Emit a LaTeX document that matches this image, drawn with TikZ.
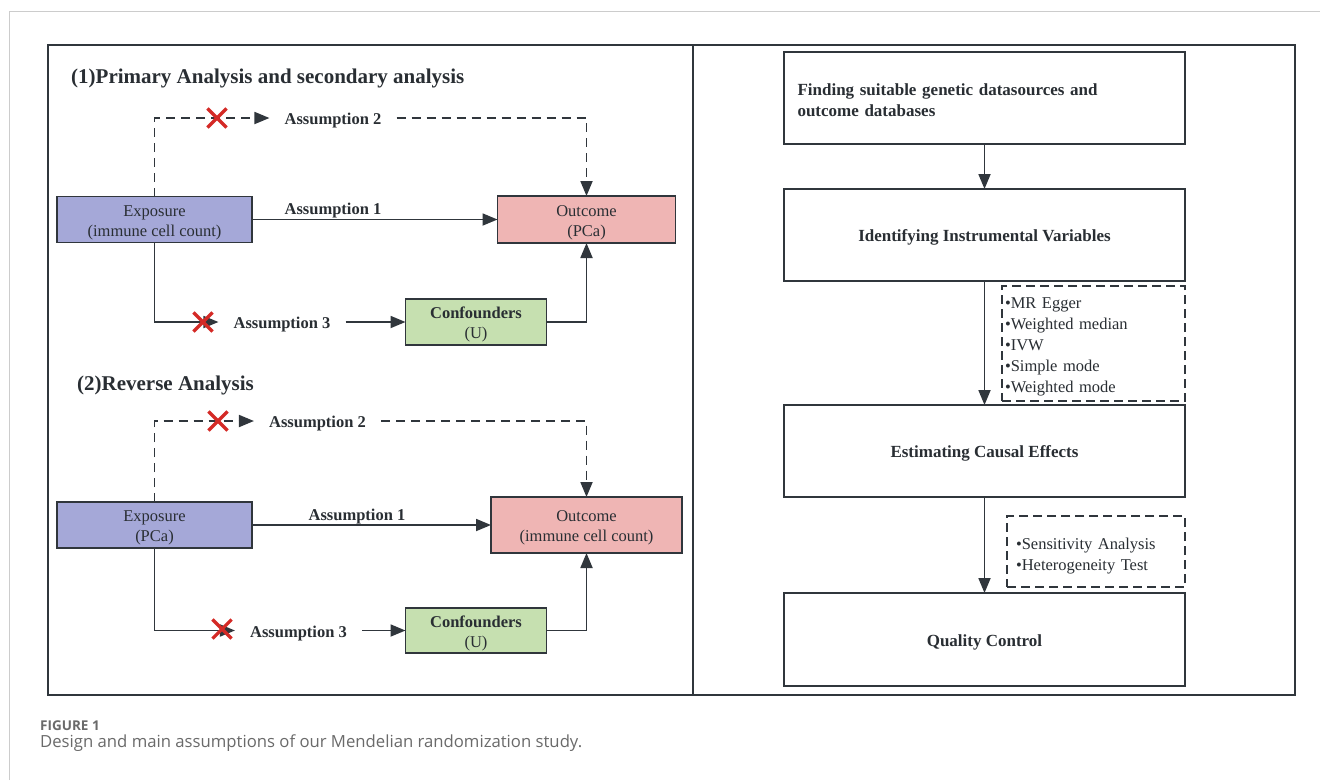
\documentclass[tikz,border=0pt]{standalone}
\usepackage{fontspec}
\setmainfont{Liberation Serif}
\newfontfamily\capfont{Open Sans}
\usepackage{xcolor}
\usepackage{tikz}
\usetikzlibrary{arrows.meta,shapes.misc}
\definecolor{framegray}{HTML}{30363C}
\definecolor{expblue}{HTML}{A5A8D8}
\definecolor{outpink}{HTML}{EFB5B4}
\definecolor{confgreen}{HTML}{C6E0B0}
\definecolor{crossred}{HTML}{D42A26}
\definecolor{pagegray}{HTML}{CCCCCC}
\definecolor{captext}{HTML}{6A6A6A}
\newcommand{\upgap}{\rule{0pt}{17pt}}

\begin{document}
\begin{tikzpicture}[x=1pt,y=-1pt,
  every node/.style={text=framegray!85!black},
  box/.style={draw=framegray, line width=1.7pt, inner sep=0pt, outer sep=0pt, align=center, font=\fontsize{16.5}{20}\selectfont},
  stepbox/.style={box, minimum width=401pt, minimum height=92pt, font=\fontsize{17}{21}\selectfont\bfseries, execute at begin node={\upgap}},
  notebox/.style={draw=framegray, line width=1.6pt, dash pattern=on 9pt off 5pt, inner xsep=3pt, inner ysep=0pt, align=left, font=\fontsize{16.5}{21}\selectfont, execute at begin node={\upgap}},
  lbl/.style={font=\fontsize{16.5}{20}\selectfont\bfseries, inner xsep=15pt, inner ysep=0pt, text height=13pt, text depth=0pt},
  ttl/.style={anchor=west, inner sep=0pt, font=\fontsize{21}{24}\selectfont\bfseries},
  arr/.style={draw=framegray, line width=1.8pt, -{Triangle[length=15pt,width=12pt]}},
  dashline/.style={arr, dash pattern=on 9pt off 6pt},
  xmark/.style={cross out, draw=crossred, line width=3.2pt, minimum size=16pt, inner sep=0pt}]
  \useasboundingbox (0,0) rectangle (1320,780);
  \fill[white] (0,0) rectangle (1320,780);
  \draw[pagegray, line width=1pt] (9,780) -- (9,11.5) -- (1320,11.5);
  \draw[framegray, line width=2pt] (47.5,44.5) rectangle (1295,695);
  \draw[framegray, line width=2pt] (693,44.5) -- (693,695);

  \node[ttl] (t1) at (71,78) {(1)Primary Analysis and secondary analysis};
  \node[box, fill=expblue, minimum width=195pt, minimum height=46pt] (exp1) at (154.5,219.5) {\upgap Exposure\\(immune cell count)};
  \node[box, fill=outpink, minimum width=178pt, minimum height=47pt] (out1) at (586.5,219.5) {\upgap Outcome\\(PCa)};
  \node[box, fill=confgreen, minimum width=141pt, minimum height=46pt] (conf1) at (476,322) {\upgap\textbf{Confounders}\\(U)};
  \node[lbl] (a21) at (333,118) {Assumption 2};
  \node[lbl] (a11) at (333,208) {Assumption 1};
  \node[lbl] (a31) at (282,322) {Assumption 3};
  \draw[dashline] (exp1.north) |- (a21.west);
  \draw[dashline] (a21.east) -| (out1.north);
  \draw[arr] (exp1.east) -- (out1.west);
  \draw[arr] (exp1.south) |- (a31.west);
  \draw[arr] (a31.east) -- (conf1.west);
  \draw[arr] (conf1.east) -| (out1.south);
  \node[xmark] (x21) at (217,118) {};
  \node[xmark] (x31) at (203,322) {};

  \node[ttl] (t2) at (77,385) {(2)Reverse Analysis};
  \node[box, fill=expblue, minimum width=195pt, minimum height=46pt] (exp2) at (154.5,525) {\upgap Exposure\\(PCa)};
  \node[box, fill=outpink, minimum width=191pt, minimum height=56pt] (out2) at (586.5,525) {\upgap Outcome\\(immune cell count)};
  \node[box, fill=confgreen, minimum width=141pt, minimum height=45pt] (conf2) at (476,630.5) {\upgap\textbf{Confounders}\\(U)};
  \node[lbl] (a22) at (317.5,421) {Assumption 2};
  \node[lbl] (a12) at (357,514) {Assumption 1};
  \node[lbl] (a32) at (298.5,630.5) {Assumption 3};
  \draw[dashline] (exp2.north) |- (a22.west);
  \draw[dashline] (a22.east) -| (out2.north);
  \draw[arr] (exp2.east) -- (out2.west);
  \draw[arr] (exp2.south) |- (a32.west);
  \draw[arr] (a32.east) -- (conf2.west);
  \draw[arr] (conf2.east) -| (out2.south);
  \node[xmark] (x22) at (218,421) {};
  \node[xmark] (x32) at (222,629) {};

  \node[stepbox, align=left, text width=374pt, inner xsep=13.5pt] (find) at (984.5,98) {Finding suitable genetic datasources and\\outcome databases};
  \node[stepbox] (ivs) at (984.5,235) {Identifying Instrumental Variables};
  \node[stepbox] (est) at (984.5,451) {Estimating Causal Effects};
  \node[stepbox, minimum height=93pt] (qc) at (984.5,639.5) {Quality Control};
  \node[notebox, text width=177pt, minimum height=115pt] (mr) at (1093.5,343.5) {•MR Egger\\•Weighted median\\•IVW\\•Simple mode\\•Weighted mode};
  \node[notebox, text width=160pt, inner xsep=9pt, minimum height=71pt, execute at begin node={\rule{0pt}{21pt}}] (sens) at (1096,551.5) {•Sensitivity Analysis\\•Heterogeneity Test};
  \draw[arr] (find.south) -- (ivs.north);
  \draw[arr] (ivs.south) -- (est.north);
  \draw[arr] (est.south) -- (qc.north);

  \node[anchor=base west, inner sep=0pt, text=captext, font=\capfont\fontsize{13.5}{16}\selectfont\bfseries] (fig) at (40,730) {FIGURE 1};
  \node[anchor=base west, inner sep=0pt, text=captext, font=\capfont\fontsize{16.7}{18}\selectfont] (cap) at (40,747) {Design and main assumptions of our Mendelian randomization study.};
\end{tikzpicture}
\end{document}
